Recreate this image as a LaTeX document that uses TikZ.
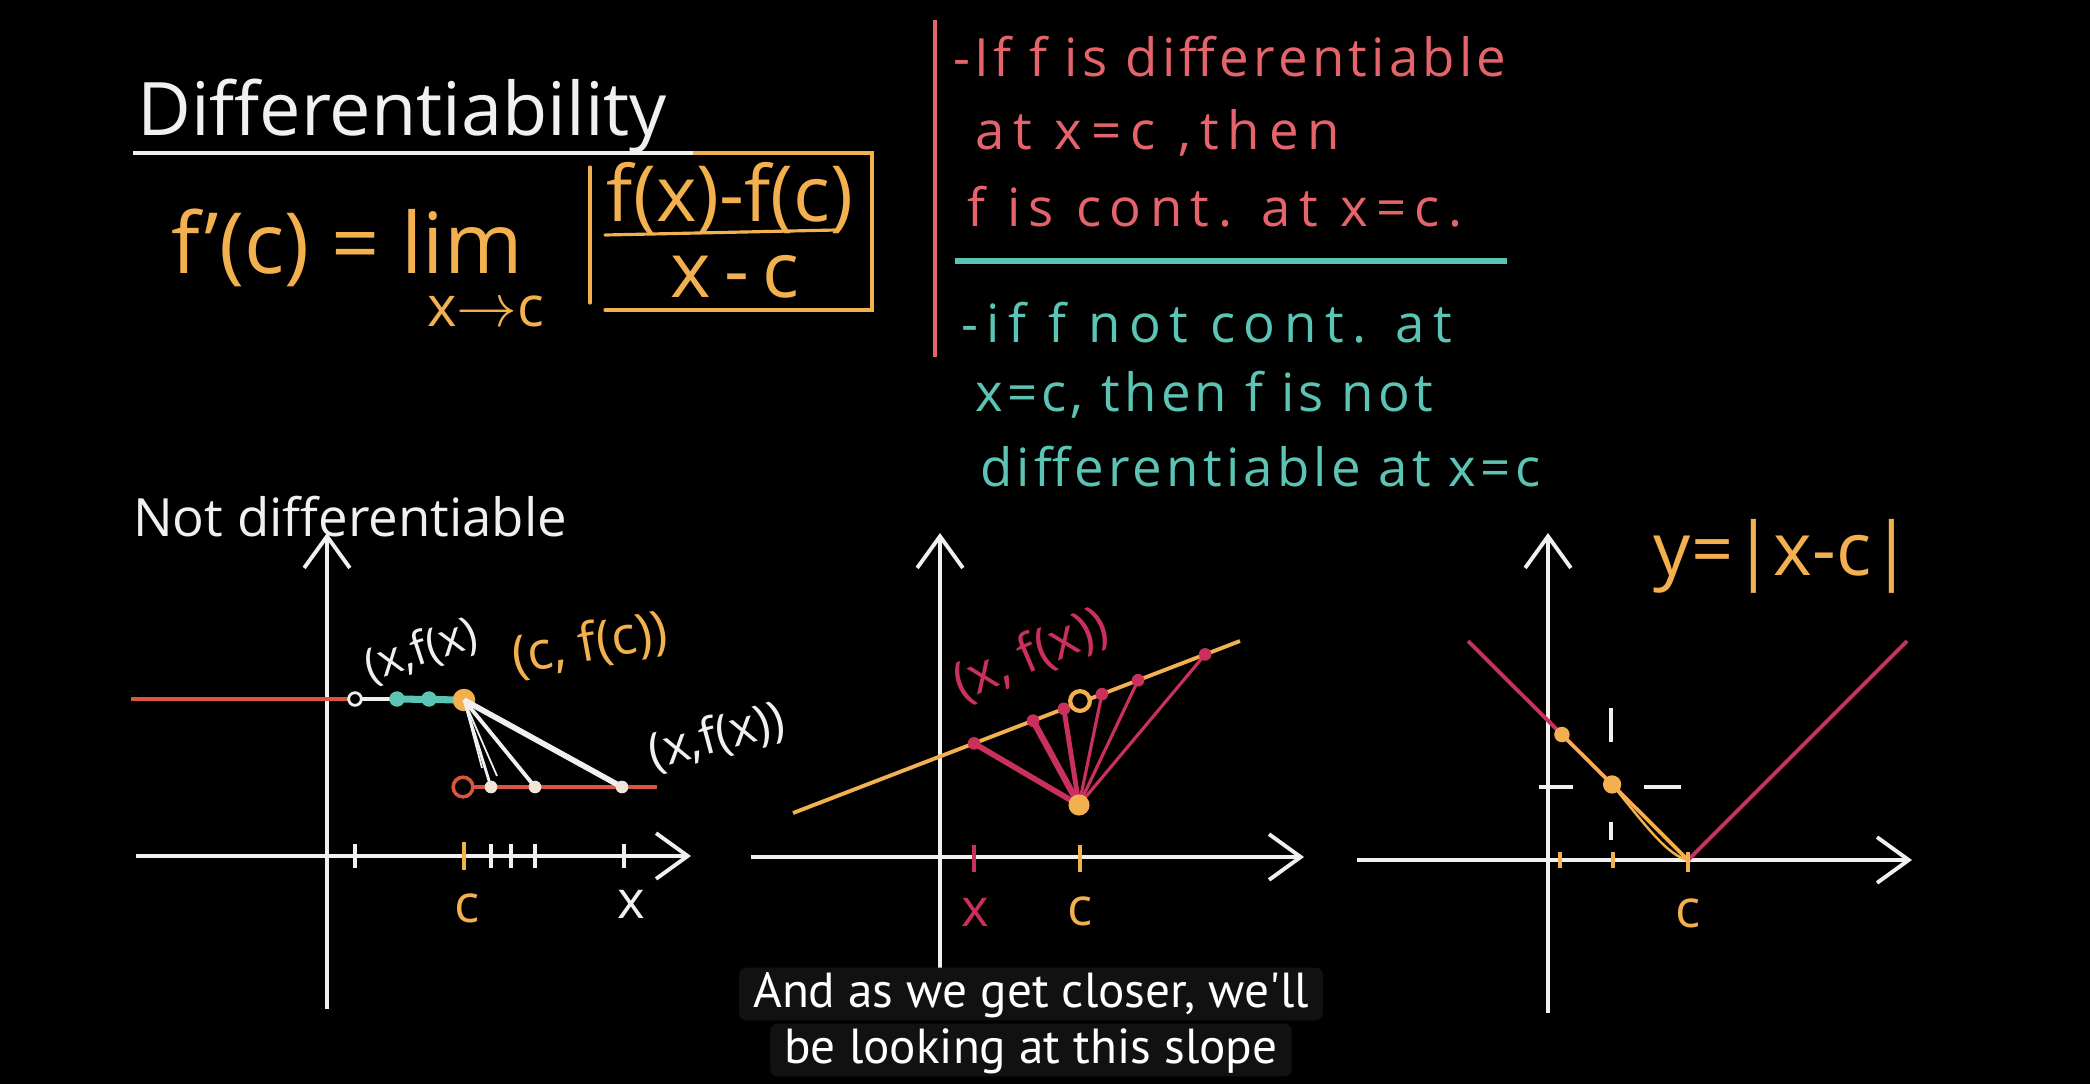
\documentclass[tikz,border=0pt]{standalone}
\usepackage{fontspec}
\setmainfont{Open Sans}
\newfontfamily\capfont{PT Sans}
\usetikzlibrary{arrows.meta, calc}

\definecolor{chalk}{HTML}{F0F0F0}
\definecolor{amber}{HTML}{F2B04E}
\definecolor{salmon}{HTML}{E5646B}
\definecolor{mint}{HTML}{5CC4B5}
\definecolor{berry}{HTML}{C9305B}
\definecolor{brick}{HTML}{D8553E}
\definecolor{capbg}{HTML}{111111}

\begin{document}
\begin{tikzpicture}[
		x=0.01cm,
		y=-0.01cm,
		font=\fontsize{15}{18}\selectfont,
		axis/.style={draw=chalk, line width=1.1pt, -{Straight Barb[length=9pt, width=13pt]}},
		tickmark/.style={draw=chalk, line width=1pt},
		pen/.style={line width=0.9pt, line cap=round},
		hand/.style={inner sep=1pt},
		spaced/.style={font=\fontsize{15}{18}\selectfont\addfontfeatures{LetterSpace=#1}},
		secant/.style={draw=berry, line cap=round},
		capbox/.style={fill=capbg, text=white, inner xsep=4pt, inner ysep=0pt, minimum height=15pt,
			text height=10.5pt, text depth=3pt, rounded corners=2pt, font=\capfont\fontsize{14}{16}\selectfont}
		]
		% Board
		\fill[black] (0,0) rectangle (2090,1084);
		\useasboundingbox (0,0) rectangle (2090,1084);
		
		% Definition
		\node[hand, text=chalk, anchor=base west, font=\fontsize{21}{24}\selectfont] (title) at (133,135) {Differentiability};
		\draw[pen, amber] (602,153) -- (872,153) -- (872,310) -- (605,310);
		\draw[pen, amber] (590,167) -- (590,303);
		\draw[chalk, line width=1.4pt] (133,153) -- (693,153);
		\node[hand, text=amber, anchor=base west, text depth=0pt, font=\fontsize{24}{28}\selectfont] (fpc) at (167,273) {f'(c) = lim};
		\node[hand, text=amber, font=\fontsize{16}{18}\selectfont] (xtoc) at (486,311) {x$\rightarrow$c};
		\node[hand, text=amber, font=\fontsize{22}{26}\selectfont] (num) at (730,198) {f(x)-f(c)};
		\node[hand, text=amber, font=\fontsize{22}{26}\selectfont] (den) at (735,277) {x\,-\,c};
		\draw[pen, amber] (605,235) -- (836,230);
		
		% Continuity notes
		\draw[salmon, line width=1.2pt] (935,20) -- (935,357);
		\node[hand, text=salmon, anchor=west, spaced=8] (n1) at (949,57) {-If f is differentiable};
		\node[hand, text=salmon, anchor=west, spaced=17] (n2) at (971,133) {at x=c ,then};
		\node[hand, text=salmon, anchor=west, spaced=16] (n3) at (963,207) {f is cont. at x=c.};
		\draw[mint, line width=1.5pt] (955,261) -- (1507,261);
		\node[hand, text=mint, anchor=west, spaced=16] (n4) at (957,323) {-if f not cont. at};
		\node[hand, text=mint, anchor=west, spaced=8] (n5) at (971,395) {x=c, then f is not};
		\node[hand, text=mint, anchor=west, spaced=8] (n6) at (976,467) {differentiable at x=c};
		
		% Graph 1: jump
		\node[hand, text=chalk, anchor=west] (nd) at (129,517) {Not differentiable};
		\draw[axis] (136,856) -- (691,856);
		\draw[axis] (327,1009) -- (327,533);
		\foreach \t in {355,491,511,535,624}
			\draw[tickmark] (\t,844) -- (\t,868);
		\draw[tickmark, amber] (464,842) -- (464,870);
		\node[hand, text=amber] (c1) at (467,908) {c};
		\node[hand, text=chalk] (x1) at (631,904) {x};
		\coordinate (a0) at (131,699);
		\coordinate (a1) at (355,699);
		\coordinate (a2) at (397,699);
		\coordinate (cf) at (464,700);
		\coordinate (b0) at (463,787);
		\coordinate (b4) at (657,787);
		\draw[brick, line width=1pt] (a0) -- (a1);
		\draw[chalk, line width=1pt] (a1) -- (a2);
		\draw[mint, line width=2pt] (a2) -- (cf);
		\fill[mint] (a2) circle (2.2pt) (429,699) circle (2.2pt);
		\draw[chalk, line width=0.8pt, fill=black] (a1) circle (1.8pt);
		\fill[amber] (cf) circle (3.2pt);
		\draw[brick, line width=1pt] (b0) -- (b4);
		\draw[brick, line width=1pt, fill=black] (b0) circle (2.8pt);
		\foreach \x/\n in {491/1, 535/2, 622/3}
			\coordinate (b\n) at (\x,787);
		\draw[chalk, line width=0.5pt] (cf) -- (482,768) (cf) -- (497,776);
		\draw[chalk, line width=0.8pt] (cf) -- (b1);
		\draw[chalk, line width=1.1pt] (cf) -- (b2);
		\draw[chalk, line width=1.6pt] (cf) -- (b3);
		\foreach \n in {1,2,3}
			\fill[chalk!85!amber] (b\n) circle (1.8pt);
		\node[hand, text=chalk, rotate=18, font=\fontsize{13}{15}\selectfont] (lx1) at (421,651) {(x,f(x)};
		\node[hand, text=amber, rotate=10] (lc1) at (590,645) {(c, f(c))};
		\node[hand, text=chalk, rotate=15, font=\fontsize{14}{16}\selectfont] (lx2) at (717,737) {(x,f(x))};
		
		% Graph 2: hole
		\draw[axis] (751,857) -- (1304,857);
		\draw[axis] (940,1020) -- (940,533);
		\coordinate (oa) at (793,813);
		\coordinate (ob) at (1240,641);
		\coordinate (cp) at (1079,805);
		\coordinate (hole) at (1080,701);
		\draw[amber, line width=1.1pt] (oa) -- (ob);
		\foreach \t/\n/\w in {0.405/1/1.6pt, 0.537/2/1.8pt, 0.606/3/1.4pt, 0.691/4/0.9pt, 0.772/5/0.9pt, 0.922/6/0.9pt} {
			\coordinate (s\n) at ($(oa)!\t!(ob)$);
			\draw[secant, line width=\w] (cp) -- (s\n);
			\fill[berry] (s\n) circle (1.8pt);
		}
		\draw[amber, line width=1.2pt, fill=black] (hole) circle (2.8pt);
		\fill[amber] (cp) circle (3pt);
		\draw[tickmark, berry] (974,845) -- (974,872);
		\draw[tickmark, amber] (1080,845) -- (1080,872);
		\node[hand, text=berry] (x2) at (975,912) {x};
		\node[hand, text=amber] (c2) at (1080,911) {c};
		\node[hand, text=berry, rotate=23] (lx3) at (1031,655) {(x, f(x))};
		
		% Graph 3: corner
		\draw[axis] (1357,860) -- (1912,860);
		\draw[axis] (1548,1013) -- (1548,533);
		\coordinate (vl) at (1468,641);
		\coordinate (vtx) at (1688,860);
		\coordinate (vr) at (1907,641);
		\draw[berry, line width=1.1pt] (vl) -- (vtx) -- (vr);
		\coordinate (o1) at ($(vl)!0.427!(vtx)$);
		\coordinate (o2) at ($(vl)!0.655!(vtx)$);
		\draw[amber, line width=1pt] (o1) -- (vtx);
		\draw[amber, line width=0.7pt] (o2) .. controls (1645,825) and (1668,856) .. (vtx);
		\fill[amber] (o1) circle (2.2pt) (o2) circle (2.6pt);
		\draw[chalk, line width=1.3pt] (1611,708) -- (1611,742) (1611,822) -- (1611,840)
			(1539,787) -- (1573,787) (1644,787) -- (1681,787);
		\foreach \t in {1560,1613}
			\draw[amber, line width=0.9pt] (\t,852) -- (\t,868);
		\draw[tickmark, amber] (1688,852) -- (1688,872);
		\node[hand, text=amber] (c3) at (1688,913) {c};
		\node[hand, text=amber, font=\fontsize{21}{24}\selectfont] (eq) at (1783,556) {y=|x-c|};
		
		% Caption
		\node[capbox] (cap1) at (1031,994) {And as we get closer, we\textquotesingle ll};
		\node[capbox] (cap2) at (1031,1050) {be looking at this slope};
	\end{tikzpicture}
\end{document}
